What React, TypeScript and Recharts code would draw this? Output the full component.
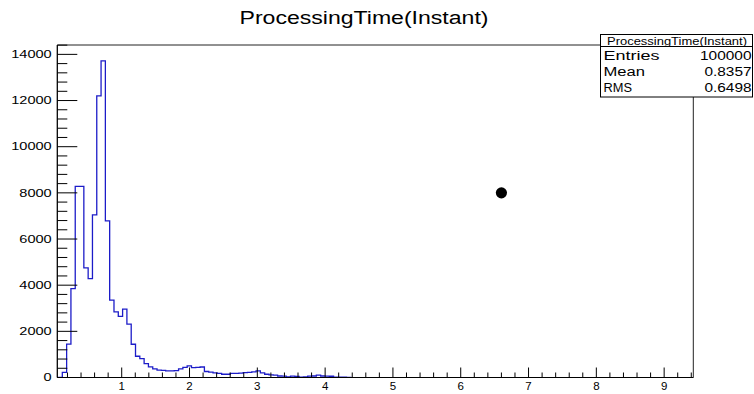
import React from "react";
import {
  ComposedChart,
  Line,
  Scatter,
  XAxis,
  YAxis,
  ReferenceArea,
} from "recharts";

// Histogram: ProcessingTime(Instant)
const binStart = 0.0605;
const binWidth = 0.0635;
const binCounts = [
  0, 220, 1450, 3850, 8280, 8280, 4750, 4280, 7050, 12200, 13720, 6790, 3350,
  2840, 2650, 2960, 2310, 1440, 920, 820, 600, 460, 370, 320, 310, 290, 290,
  300, 370, 440, 500, 430, 440, 455, 260, 230, 200, 180, 140, 140, 180, 180,
  190, 210, 225, 240, 290, 200, 140, 110, 100, 65, 60, 25, 60, 45, 20, 25, 60,
  65, 100, 65, 60, 55, 20, 15, 10, 5,
];

// Single marker point
const markerX = [6.6];
const markerY = [8000];

// Axis ranges and ticks
const xDomain = [0.05, 9.43];
const yDomain = [0, 14406];
const xMajorLabels = [1, 2, 3, 4, 5, 6, 7, 8, 9];
const yMajorLabels = [0, 2000, 4000, 6000, 8000, 10000, 12000, 14000];
const xTicks = Array.from({ length: 47 }, (_, i) => +(0.2 * (i + 1)).toFixed(1));
const yTicks = Array.from({ length: 37 }, (_, i) => i * 400);

// Stats box
const statsTitle = "ProcessingTime(Instant)";
const statsLabels = ["Entries", "Mean", "RMS"];
const statsValues = ["100000", "0.8357", "0.6498"];

const chartTitle = "ProcessingTime(Instant)";

const histData = [
  ...binCounts.map((c, i) => ({ x: binStart + i * binWidth, y: c })),
  { x: binStart + binCounts.length * binWidth, y: 0 },
];
const markerData = markerX.map((x, i) => ({ x, y: markerY[i] }));

const FONT = "'Liberation Sans', Arial, Helvetica, sans-serif";

const XTick = (props: any) => {
  const { x, y, payload } = props;
  const v = payload.value as number;
  const major = xMajorLabels.some((m) => Math.abs(m - v) < 1e-6);
  return (
    <g>
      <line x1={x} y1={y} x2={x} y2={y - (major ? 10 : 5)} stroke="#000" strokeWidth={1} />
      {major && (
        <text x={x} y={y + 12.5} textAnchor="middle" fontSize={11.5} fontFamily={FONT} fill="#000">
          {String(v)}
        </text>
      )}
    </g>
  );
};

const YTick = (props: any) => {
  const { x, y, payload } = props;
  const v = payload.value as number;
  const major = yMajorLabels.includes(v);
  const label = String(v);
  return (
    <g>
      <line x1={x} y1={y} x2={x + (major ? 20 : 10)} y2={y} stroke="#000" strokeWidth={1} />
      {major && (
        <text
          x={x - 5.6}
          y={y + 3.8}
          textAnchor="end"
          fontSize={10.5}
          fontFamily={FONT}
          fill="#000"
          textLength={label.length * 8.1}
          lengthAdjust="spacingAndGlyphs"
        >
          {label}
        </text>
      )}
    </g>
  );
};

const Dot = (props: any) => <circle cx={props.cx} cy={props.cy} r={5.6} fill="#000" />;

export default function App() {
  return (
    <div style={{ position: "absolute", left: 0, top: 0, width: 754, height: 394, background: "#fff" }}>
      <ComposedChart
        width={754}
        height={394}
        margin={{ top: 45, right: 60.7, bottom: 0, left: 0 }}
      >
        <XAxis
          type="number"
          dataKey="x"
          domain={xDomain}
          allowDataOverflow
          ticks={xTicks}
          interval={0}
          tick={<XTick />}
          tickLine={false}
          tickSize={0}
          tickMargin={0}
          height={16.5}
          axisLine={{ stroke: "#000" }}
        />
        <YAxis
          type="number"
          domain={yDomain}
          allowDataOverflow
          ticks={yTicks}
          interval={0}
          tick={<YTick />}
          tickLine={false}
          tickSize={0}
          tickMargin={0}
          width={57.3}
          axisLine={{ stroke: "#000" }}
        />
        <ReferenceArea
          x1={xDomain[0]}
          x2={xDomain[1]}
          y1={yDomain[0]}
          y2={yDomain[1]}
          fill="none"
          stroke="#222"
          strokeWidth={1}
          ifOverflow="visible"
        />
        <Line
          data={histData}
          dataKey="y"
          type="stepAfter"
          stroke="#1c1cc8"
          strokeWidth={1.3}
          dot={false}
          activeDot={false}
          isAnimationActive={false}
        />
        <Scatter data={markerData} dataKey="y" shape={<Dot />} isAnimationActive={false} />
      </ComposedChart>
      <svg
        width={754}
        height={394}
        style={{ position: "absolute", left: 0, top: 0, pointerEvents: "none" }}
      >
        <text
          x={364}
          y={23.5}
          textAnchor="middle"
          fontSize={18}
          fontFamily={FONT}
          fill="#000"
          textLength={249}
          lengthAdjust="spacingAndGlyphs"
        >
          {chartTitle}
        </text>
        <rect x={600.5} y={34.5} width={152} height={62.5} fill="#fff" stroke="#000" strokeWidth={1} />
        <line x1={600.5} y1={46.5} x2={752.5} y2={46.5} stroke="#000" strokeWidth={1} />
        <text
          x={677}
          y={44.5}
          textAnchor="middle"
          fontSize={10}
          fontFamily={FONT}
          fill="#000"
          textLength={140}
          lengthAdjust="spacingAndGlyphs"
        >
          {statsTitle}
        </text>
        {statsLabels.map((l, i) => (
          <text
            key={l}
            x={603.5}
            y={60 + i * 15.8}
            fontSize={12}
            fontFamily={FONT}
            fill="#000"
            textLength={[56, 41.5, 28.5][i]}
            lengthAdjust="spacingAndGlyphs"
          >
            {l}
          </text>
        ))}
        {statsValues.map((v, i) => (
          <text
            key={v}
            x={751.5}
            y={60 + i * 15.8}
            textAnchor="end"
            fontSize={12}
            fontFamily={FONT}
            fill="#000"
            textLength={[51.5, 47, 47][i]}
            lengthAdjust="spacingAndGlyphs"
          >
            {v}
          </text>
        ))}
      </svg>
    </div>
  );
}
